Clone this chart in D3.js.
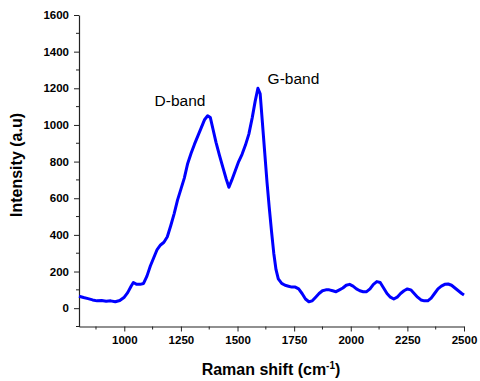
<!DOCTYPE html>
<html>
<head>
<meta charset="utf-8">
<script src="https://cdn.jsdelivr.net/npm/d3@7"></script>
<style>
  html, body { margin: 0; padding: 0; background: #fff; }
  svg { display: block; }
</style>
</head>
<body>
<svg id="chart" width="480" height="381"></svg>
<script>
// Raman shift (cm^-1)
const ramanShift = [800,820,840,860,880,900,920,940,960,980,1000,1015,1030,1040,1055,1070,1085,1100,1115,1130,1145,1160,1175,1190,1205,1220,1235,1250,1265,1280,1295,1310,1325,1340,1355,1368,1380,1392,1405,1420,1435,1450,1462,1475,1490,1505,1520,1535,1550,1565,1578,1590,1600,1610,1620,1630,1640,1650,1660,1670,1680,1695,1710,1725,1740,1755,1770,1785,1800,1815,1830,1845,1860,1875,1890,1905,1920,1935,1950,1965,1980,1995,2010,2025,2040,2055,2070,2085,2100,2115,2130,2145,2160,2175,2190,2205,2220,2235,2250,2265,2280,2295,2310,2325,2340,2355,2370,2385,2400,2415,2430,2445,2460,2475,2490,2500];
// Intensity (a.u)
const intensity = [65,58,52,45,40,42,38,40,35,42,60,85,120,140,130,130,135,175,230,275,320,345,360,390,450,515,590,650,710,790,845,895,940,985,1030,1050,1040,975,905,835,770,705,660,700,750,800,840,890,950,1040,1130,1200,1170,1010,850,690,550,420,300,210,160,135,125,120,115,115,105,80,50,35,40,60,80,95,100,100,95,90,100,110,125,130,120,105,95,90,90,105,130,145,140,110,80,60,50,60,80,95,105,100,80,60,45,40,40,55,80,105,120,130,132,125,110,95,80,72];

const xTicks = [1000,1250,1500,1750,2000,2250,2500];
const xMinorTicks = [875,1125,1375,1625,1875,2125,2375];
const yTicks = [0,200,400,600,800,1000,1200,1400,1600];
const yMinorTicks = [-100,100,300,500,700,900,1100,1300,1500];
const annotations = [
  {label: "D-band", x: 1246, y: 1103, anchor: "middle"},
  {label: "G-band", x: 1747, y: 1223, anchor: "middle"}
];

(function () {
const svg = d3.select("#chart");
const mLeft = 79, mRight = 464, mTop = 15, mBottom = 326.5;

const x = d3.scaleLinear().domain([800, 2500]).range([mLeft, mRight]);
const y = d3.scaleLinear().domain([-100, 1600]).range([mBottom, mTop]);

const font = "'Liberation Sans', Arial, sans-serif";
const axisColor = "#222";
const fmt = d3.format("d");

// X axis
const gx = svg.append("g").attr("transform", `translate(0,${mBottom})`);
gx.call(d3.axisBottom(x).tickValues(xTicks).tickFormat(fmt).tickSize(5).tickPadding(4).tickSizeOuter(0));
gx.append("g").selectAll("line").data(xMinorTicks).join("line")
  .attr("x1", d => x(d)).attr("x2", d => x(d)).attr("y1", 0).attr("y2", 3)
  .attr("stroke", axisColor);

// Y axis
const gy = svg.append("g").attr("transform", `translate(${mLeft},0)`);
gy.call(d3.axisLeft(y).tickValues(yTicks).tickFormat(fmt).tickSize(5).tickPadding(5).tickSizeOuter(0));
gy.append("g").selectAll("line").data(yMinorTicks).join("line")
  .attr("y1", d => y(d)).attr("y2", d => y(d)).attr("x1", 0).attr("x2", -3)
  .attr("stroke", axisColor);

svg.selectAll(".domain").attr("stroke", axisColor).attr("stroke-width", 1.2);
svg.selectAll(".tick line").attr("stroke", axisColor);
svg.selectAll(".tick text")
  .attr("font-family", font).attr("font-size", "11.5px").attr("font-weight", "bold").attr("fill", "#000");

// Line
const pts = ramanShift.map((r, i) => [r, intensity[i]]);
svg.append("path")
  .datum(pts)
  .attr("fill", "none")
  .attr("stroke", "#0000ff")
  .attr("stroke-width", 3)
  .attr("stroke-linejoin", "round")
  .attr("d", d3.line().x(d => x(d[0])).y(d => y(d[1])));

// Annotations
svg.selectAll(".ann").data(annotations).join("text")
  .attr("class", "ann")
  .attr("x", d => x(d.x)).attr("y", d => y(d.y))
  .attr("text-anchor", d => d.anchor)
  .attr("font-family", font).attr("font-size", "15.5px").attr("fill", "#000")
  .text(d => d.label);

// Axis titles
svg.append("text")
  .attr("transform", `translate(22,165) rotate(-90)`)
  .attr("text-anchor", "middle")
  .attr("font-family", font).attr("font-size", "16px").attr("font-weight", "bold")
  .text("Intensity (a.u)");

const xt = svg.append("text")
  .attr("x", 271).attr("y", 375)
  .attr("text-anchor", "middle")
  .attr("font-family", font).attr("font-size", "16px").attr("font-weight", "bold");
xt.append("tspan").text("Raman shift (cm");
xt.append("tspan").attr("font-size", "10px").attr("dy", "-6").text("-1");
xt.append("tspan").attr("dy", "6").text(")");
})();
</script>
</body>
</html>
